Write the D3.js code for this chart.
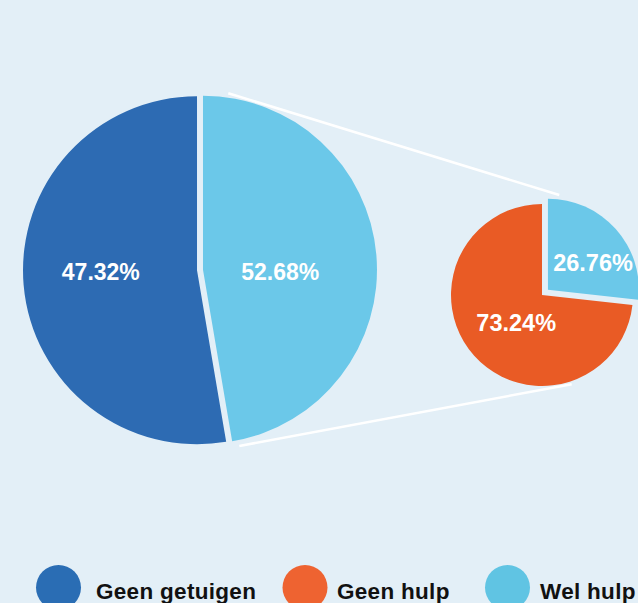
<!DOCTYPE html>
<html>
<head>
<meta charset="utf-8">
<script src="https://cdn.jsdelivr.net/npm/d3@7"></script>
<style>
  html, body { margin: 0; padding: 0; background: #e3eff7; }
  svg { display: block; }
</style>
</head>
<body>
<svg id="chart" width="638" height="603"></svg>
<script>
// ---- data ----
const mainCategories = ["Wel getuigen", "Geen getuigen"];
const mainValues = [52.68, 47.32];
const subCategories = ["Wel hulp", "Geen hulp"];
const subValues = [26.76, 73.24];
const legendLabels = ["Geen getuigen", "Geen hulp", "Wel hulp"];

// ---- style / layout ----
const bg = "#e3eff7";
const pieColors = { "Wel getuigen": "#6bc8e9", "Geen getuigen": "#2d6bb3", "Wel hulp": "#6bc8e9", "Geen hulp": "#e95b25" };
const legendColors = { "Geen getuigen": "#2a6db4", "Geen hulp": "#ee6331", "Wel hulp": "#60c4e3" };
const font = "'Liberation Sans', Arial, sans-serif";

const svg = d3.select("#chart");
svg.append("rect").attr("width", 638).attr("height", 603).attr("fill", bg);

const fmt = v => v.toFixed(2) + "%";
const pie = d3.pie().sort(null).value(d => d.value);

function polar(cx, cy, angleDeg, r) {
  const a = angleDeg * Math.PI / 180;
  return [cx + Math.sin(a) * r, cy - Math.cos(a) * r];
}

// ---- big pie ----
// In the original picture the slice sizes are drawn swapped relative to their
// labels (the light slice on the right spans 47.32% of the circle), so the
// geometry takes the values in reversed order while labels keep their own.
const big = { cx: 200, cy: 270, r: 174, explode: 3 };
const bigGeom = pie(mainValues.slice().reverse().map(v => ({ value: v })));
const bigData = bigGeom.map((g, i) => Object.assign({}, g, { data: { cat: mainCategories[i], value: mainValues[i] } }));
const bigArc = d3.arc().innerRadius(0).outerRadius(big.r);
const gBig = svg.append("g").attr("transform", `translate(${big.cx},${big.cy})`);
bigData.forEach(d => {
  const mid = (d.startAngle + d.endAngle) / 2;
  const ox = Math.sin(mid) * big.explode, oy = -Math.cos(mid) * big.explode;
  gBig.append("path")
    .attr("d", bigArc(d))
    .attr("transform", `translate(${ox},${oy})`)
    .attr("fill", pieColors[d.data.cat]);
  const lx = ox + Math.sin(mid) * big.r * 0.5 - 9.5;
  gBig.append("text")
    .attr("x", lx).attr("y", 1.5 + 23 * 0.36)
    .attr("text-anchor", "middle")
    .attr("font-family", font).attr("font-weight", 700).attr("font-size", 23)
    .attr("fill", "#fff")
    .text(fmt(d.data.value));
});

// ---- small pie ----
const small = { cx: 542, cy: 295, r: 91 };
const subData = pie(subCategories.map((c, i) => ({ cat: c, value: subValues[i] })));
const smallArc = d3.arc().innerRadius(0).outerRadius(small.r);
const explodeSmall = { "Wel hulp": 8, "Geen hulp": 0 };
const labelNudge = { "Wel hulp": [0.62, 3, 10], "Geen hulp": [0.44, 4, 1] };
const gSmall = svg.append("g").attr("transform", `translate(${small.cx},${small.cy})`);
subData.forEach(d => {
  const mid = (d.startAngle + d.endAngle) / 2;
  const e = explodeSmall[d.data.cat];
  const ox = Math.sin(mid) * e, oy = -Math.cos(mid) * e;
  gSmall.append("path")
    .attr("d", smallArc(d))
    .attr("transform", `translate(${ox},${oy})`)
    .attr("fill", pieColors[d.data.cat]);
  const [f, nx, ny] = labelNudge[d.data.cat];
  const lx = ox + Math.sin(mid) * small.r * f + nx;
  const ly = oy - Math.cos(mid) * small.r * f + ny;
  gSmall.append("text")
    .attr("x", lx).attr("y", ly + 23.5 * 0.36)
    .attr("text-anchor", "middle")
    .attr("font-family", font).attr("font-weight", 700).attr("font-size", 23.5)
    .attr("fill", "#fff")
    .text(fmt(d.data.value));
});

// ---- connector lines ----
const connectors = [
  [polar(big.cx, big.cy, 9.1, 179), polar(small.cx, small.cy, 9.8, 101.5)],
  [polar(big.cx, big.cy, 167.4, 180.3), polar(small.cx, small.cy, 161.6, 94)]
];
const line = d3.line();
connectors.forEach(pts => {
  svg.append("path").attr("d", line(pts))
    .attr("stroke", "#ffffff").attr("stroke-width", 2.5).attr("fill", "none");
});

// ---- legend ----
const legendX = d3.scaleOrdinal().domain(legendLabels).range([58.5, 305, 507.5]);
const legendTextGap = { "Geen getuigen": 37.5, "Geen hulp": 32, "Wel hulp": 32.5 };
const legendY = 587.5;
legendLabels.forEach(l => {
  svg.append("circle")
    .attr("cx", legendX(l)).attr("cy", legendY).attr("r", 22.5)
    .attr("fill", legendColors[l]);
  svg.append("text")
    .attr("x", legendX(l) + legendTextGap[l]).attr("y", 599.3)
    .attr("font-family", font).attr("font-weight", 700).attr("font-size", 22.5)
    .attr("letter-spacing", 0.3)
    .attr("fill", "#111")
    .text(l);
});
</script>
</body>
</html>
